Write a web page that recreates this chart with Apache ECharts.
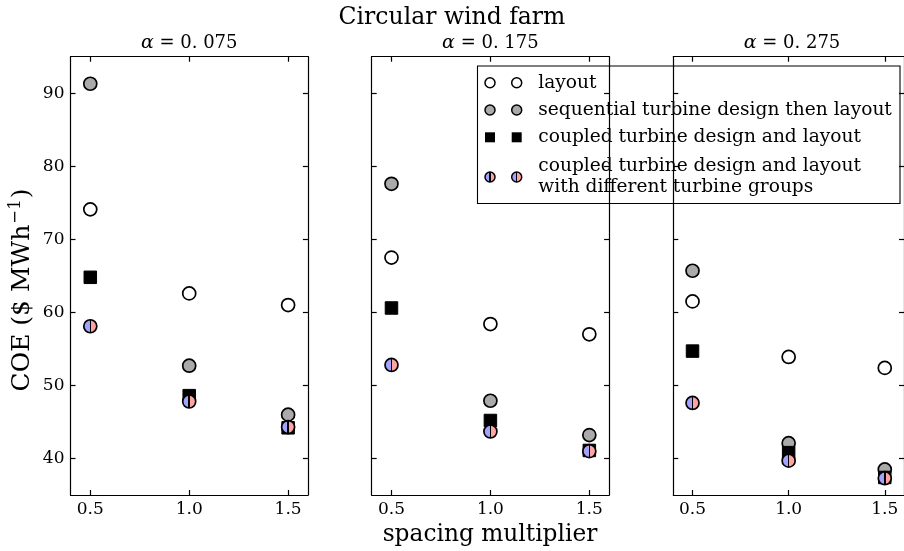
<!DOCTYPE html>
<html><head><meta charset="utf-8">
<script src="https://cdn.jsdelivr.net/npm/echarts@6/dist/echarts.min.js"></script>
<style>html,body{margin:0;padding:0;background:#fff}#c{width:904px;height:551px}</style>
</head><body><div id="c"></div>
<script>
// ---- data ----
const spacing = [0.5, 1.0, 1.5];
const alphaLabels = ['0.075', '0.175', '0.275'];
const xTicks = [0.5, 1.0, 1.5];
const yTicks = [40, 50, 60, 70, 80, 90];
const layoutCOE  = [[74.1, 62.6, 61.0], [67.5, 58.4, 57.0], [61.5, 53.9, 52.4]];
const seqCOE     = [[91.3, 52.7, 46.0], [77.6, 47.9, 43.2], [65.7, 42.1, 38.5]];
const coupledCOE = [[64.8, 48.6, 44.2], [60.6, 45.2, 41.1], [54.7, 40.8, 37.4]];
const groupsCOE  = [[58.1, 47.8, 44.3], [52.8, 43.7, 41.0], [47.6, 39.7, 37.3]];
const seriesNames = ['layout', 'sequential turbine design then layout', 'coupled turbine design and layout', 'coupled turbine design and layout\nwith different turbine groups'];

// ---- styles ----
const FONT = 'DejaVu Serif';
const BLUE = '#a3a3ff', PINK = '#ffa3a3', GRAY = '#aaaaaa';
function halfFill() {
  return new echarts.graphic.LinearGradient(0, 0, 1, 0, [
    {offset: 0, color: BLUE}, {offset: 0.45, color: BLUE},
    {offset: 0.45, color: '#000'}, {offset: 0.55, color: '#000'},
    {offset: 0.55, color: PINK}, {offset: 1, color: PINK}
  ]);
}
const gridLefts = [70.5, 371.7, 673.3];
const GW = 237.4, GT = 56.7, GH = 438.3;
const lineStyle = {color: '#000', width: 1.2};

const grid = [], xAxis = [], yAxis = [], series = [];
gridLefts.forEach((l, i) => {
  grid.push({left: l, top: GT, width: GW, height: GH});
  const xBase = {type: 'value', gridIndex: i, min: 0.4, max: 1.6, splitLine: {show: false},
    axisLine: {show: true, onZero: false, lineStyle},
    axisTick: {show: true, inside: true, length: 5, customValues: xTicks, lineStyle}};
  xAxis.push(Object.assign({}, xBase, {position: 'bottom',
    axisLabel: {show: true, customValues: xTicks, formatter: v => Number(v).toFixed(1), margin: 6,
      fontFamily: FONT, fontSize: 17, color: '#000'}}));
  xAxis.push(Object.assign({}, xBase, {position: 'top', axisLabel: {show: false}}));
  const yBase = {type: 'value', gridIndex: i, min: 35, max: 95, splitLine: {show: false},
    axisLine: {show: true, onZero: false, lineStyle},
    axisTick: {show: true, inside: true, length: 5, customValues: yTicks, lineStyle}};
  yAxis.push(Object.assign({}, yBase, {position: 'left',
    axisLabel: {show: i === 0, customValues: yTicks, margin: 6, fontFamily: FONT, fontSize: 17, color: '#000'}}));
  yAxis.push(Object.assign({}, yBase, {position: 'right', axisLabel: {show: false}}));

  const mk = (arr) => spacing.map((x, j) => [x, arr[i][j]]);
  const common = {type: 'scatter', xAxisIndex: 2 * i, yAxisIndex: 2 * i, symbolSize: 13, silent: true};
  series.push(Object.assign({}, common, {name: seriesNames[0], data: mk(layoutCOE), symbol: 'circle',
    itemStyle: {color: '#fff', borderColor: '#000', borderWidth: 1.7, opacity: 1}}));
  series.push(Object.assign({}, common, {name: seriesNames[1], data: mk(seqCOE), symbol: 'circle',
    itemStyle: {color: GRAY, borderColor: '#000', borderWidth: 1.7, opacity: 1}}));
  series.push(Object.assign({}, common, {name: seriesNames[2], data: mk(coupledCOE), symbol: 'rect', symbolSize: 12.5,
    itemStyle: {color: '#000', borderColor: '#000', borderWidth: 1, opacity: 1}}));
  series.push(Object.assign({}, common, {name: seriesNames[3], data: mk(groupsCOE), symbol: 'circle',
    itemStyle: {color: halfFill(), borderColor: '#000', borderWidth: 1.7, opacity: 1}}));
});

// ---- text & legend graphics ----
const graphic = [];
graphic.push({type: 'text', x: 452, y: 18, style: {text: 'Circular wind farm', font: '23.5px "DejaVu Serif"', fill: '#000', align: 'center', verticalAlign: 'middle'}});
gridLefts.forEach((l, i) => {
  graphic.push({type: 'text', x: l + GW / 2, y: 43, style: {
    text: '{a|α}{b| = 0. ' + alphaLabels[i].slice(2) + '}', align: 'center', verticalAlign: 'middle',
    rich: {a: {fontFamily: FONT, fontStyle: 'italic', fontSize: 19, fill: '#000'},
           b: {fontFamily: FONT, fontSize: 18, fill: '#000'}}}});
});
graphic.push({type: 'text', x: 490, y: 535, style: {text: 'spacing multiplier', font: '23.3px "DejaVu Serif"', fill: '#000', align: 'center', verticalAlign: 'middle'}});
graphic.push({type: 'text', x: 22, y: 290, rotation: Math.PI / 2, style: {
  text: '{m|COE ($ MWh}{s|\u22121}{m|)}', align: 'center', verticalAlign: 'middle',
  rich: {m: {fontFamily: FONT, fontSize: 25, fill: '#000', lineHeight: 29},
         s: {fontFamily: FONT, fontSize: 16.5, fill: '#000', verticalAlign: 'top', lineHeight: 29, padding: [0, 1, 10, 1]}}}});

const LX = 477.5, LY = 66, LW = 422.5, LH = 137.5;
const rowY = [82.7, 110, 137.3, 177];
const mX = [490, 516.7];
const legendChildren = [{type: 'rect', shape: {x: LX, y: LY, width: LW, height: LH}, style: {fill: '#fff', stroke: '#000', lineWidth: 1.1}}];
const R = 5;
rowY.forEach((ry, k) => {
  mX.forEach(mx => {
    if (k === 2) {
      legendChildren.push({type: 'rect', shape: {x: mx - R, y: ry - R, width: 2 * R, height: 2 * R}, style: {fill: '#000'}});
    } else {
      const fill = k === 0 ? '#fff' : (k === 1 ? GRAY : halfFill());
      legendChildren.push({type: 'circle', shape: {cx: mx, cy: ry, r: R}, style: {fill, stroke: '#000', lineWidth: 1.5}});
    }
  });
  legendChildren.push({type: 'text', x: 538.3, y: ry, style: {text: seriesNames[k], font: '18.6px "DejaVu Serif"', fill: '#000', verticalAlign: 'middle', lineHeight: 20.7}});
});
graphic.push({type: 'group', z: 100, children: legendChildren});

const chart = echarts.init(document.getElementById('c'), null, {renderer: 'canvas'});
chart.setOption({animation: false, backgroundColor: '#fff', grid, xAxis, yAxis, series, graphic});
</script></body></html>
